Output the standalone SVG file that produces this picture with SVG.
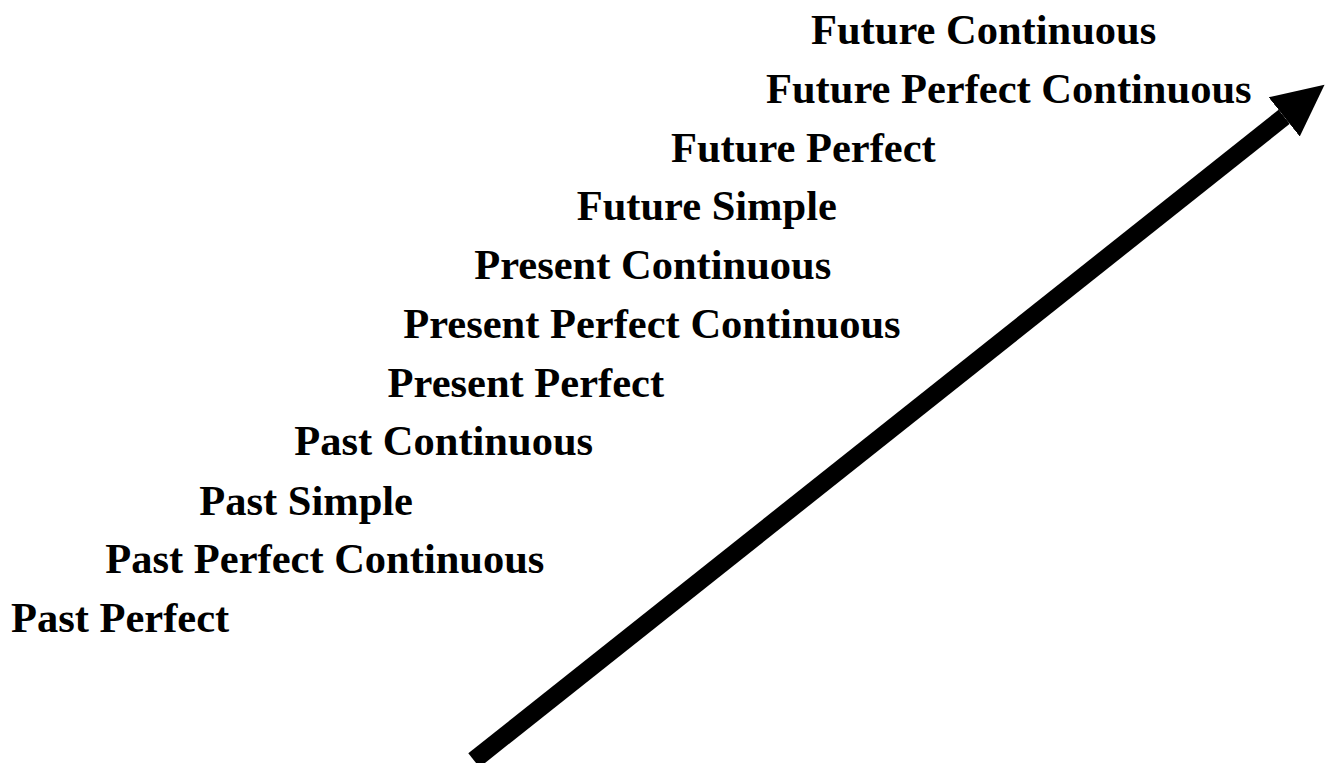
<svg xmlns="http://www.w3.org/2000/svg" width="1329" height="763" viewBox="0 0 1329 763">
<style>
  .lbl { font-family: "Liberation Serif", "Times New Roman", serif; font-weight: bold; font-size: 42.5px; fill: #000; }
  .conn { stroke: #000; stroke-width: 18; fill: none; }
</style>
<defs>
  <marker id="head" markerUnits="userSpaceOnUse" orient="auto" viewBox="0 -26 53 52" refX="0" refY="0" markerWidth="53" markerHeight="52">
    <path d="M0,-25 L51.5,0 L0,25 Z" fill="#000"/>
  </marker>
</defs>
<rect width="1329" height="763" fill="#fff"/>
<g id="connectors">
  <line class="conn" x1="473.9" y1="760.3" x2="1284.2" y2="116.8" marker-end="url(#head)"/>
</g>
<g id="n-future-continuous"><text class="lbl" x="811" y="44">Future Continuous</text></g>
<g id="n-future-perfect-continuous"><text class="lbl" x="766" y="102.7">Future Perfect Continuous</text></g>
<g id="n-future-perfect"><text class="lbl" x="671" y="161.5">Future Perfect</text></g>
<g id="n-future-simple"><text class="lbl" x="576.7" y="220.3">Future Simple</text></g>
<g id="n-present-continuous"><text class="lbl" x="474.3" y="279">Present Continuous</text></g>
<g id="n-present-perfect-continuous"><text class="lbl" x="403.3" y="337.8">Present Perfect Continuous</text></g>
<g id="n-present-perfect"><text class="lbl" x="387.6" y="396.6">Present Perfect</text></g>
<g id="n-past-continuous"><text class="lbl" x="294.3" y="455.4">Past Continuous</text></g>
<g id="n-past-simple"><text class="lbl" x="199.3" y="514.5">Past Simple</text></g>
<g id="n-past-perfect-continuous"><text class="lbl" x="105.3" y="573.3">Past Perfect Continuous</text></g>
<g id="n-past-perfect"><text class="lbl" x="11" y="632.3">Past Perfect</text></g>
</svg>
